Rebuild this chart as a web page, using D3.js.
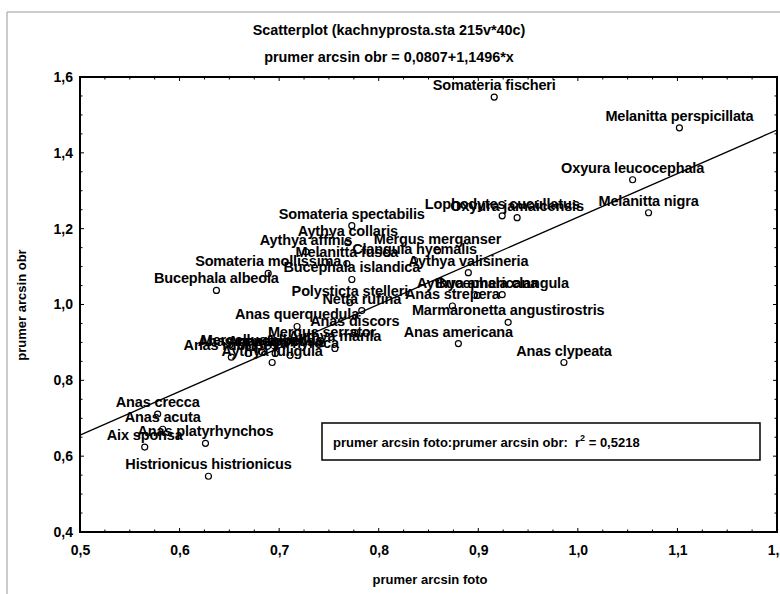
<!DOCTYPE html>
<html>
<head>
<meta charset="utf-8">
<script src="https://cdn.jsdelivr.net/npm/d3@7"></script>
<style>
  body { margin: 0; background: #fff; }
  text { font-family: "Liberation Sans", Arial, sans-serif; font-weight: bold; fill: #000; }
</style>
</head>
<body>
<div id="chart"></div>
<script>
// druhy a jejich hodnoty (odhad z obrazku)
const species = [
  'Somateria fischeri', 'Melanitta perspicillata', 'Oxyura leucocephala', 'Melanitta nigra',
  'Lophodytes cucullatus', 'Oxyura jamaicensis', 'Somateria spectabilis', 'Aythya collaris',
  'Aythya affinis', 'Mergus merganser', 'Clangula hyemalis', 'Melanitta fusca',
  'Somateria mollissima', 'Bucephala islandica', 'Aythya valisineria', 'Bucephala albeola',
  'Polysticta stelleri', 'Aythya americana', 'Bucephala clangula', 'Netta rufina',
  'Anas strepera', 'Marmaronetta angustirostris', 'Anas querquedula', 'Anas discors',
  'Mergus serrator', 'Anas americana', 'Anas clypeata', 'Aythya marila',
  'Anas rubripes', 'Anas penelope', 'Mergellus albellus', 'Aythya fuligula',
  'Anas formosa', 'Aythya nyroca', 'Anas crecca', 'Anas acuta',
  'Aix sponsa', 'Anas platyrhynchos', 'Histrionicus histrionicus'
];
const foto = [
  0.916, 1.102, 1.055, 1.071,
  0.924, 0.939, 0.773, 0.769,
  0.727, 0.859, 0.836, 0.768,
  0.689, 0.773, 0.890, 0.637,
  0.771, 0.899, 0.924, 0.783,
  0.874, 0.930, 0.718, 0.776,
  0.743, 0.880, 0.986, 0.756,
  0.652, 0.669, 0.683, 0.693,
  0.696, 0.711, 0.578, 0.583,
  0.565, 0.626, 0.629
];
const obr = [
  1.547, 1.466, 1.329, 1.242,
  1.234, 1.229, 1.208, 1.163,
  1.139, 1.142, 1.116, 1.108,
  1.082, 1.066, 1.084, 1.037,
  1.005, 1.024, 1.026, 0.984,
  0.996, 0.953, 0.942, 0.926,
  0.897, 0.897, 0.847, 0.884,
  0.861, 0.871, 0.874, 0.847,
  0.871, 0.866, 0.711, 0.671,
  0.624, 0.634, 0.547
];
const xTicks = [0.5, 0.6, 0.7, 0.8, 0.9, 1.0, 1.1, 1.2];
const yTicks = [0.4, 0.6, 0.8, 1.0, 1.2, 1.4, 1.6];
const intercept = 0.0807;
const slope = 1.1496;
const r2 = '0,5218';

const W = 780, H = 594;
const M = { left: 80, right: 3, top: 77, bottom: 62 };

const svg = d3.select('#chart').append('svg').attr('width', W).attr('height', H);

// vnejsi ramecek
svg.append('path')
  .attr('d', `M7,${H} V12 H${W}`)
  .style('fill', 'none').style('stroke', '#999').style('stroke-width', 1);

const x = d3.scaleLinear().domain([0.5, 1.2]).range([M.left, W - M.right]);
const y = d3.scaleLinear().domain([0.4, 1.6]).range([H - M.bottom, M.top]);
const fmt = v => d3.format('.1f')(v).replace('.', ',');

// titulky
svg.append('text').attr('x', 389).attr('y', 35).attr('text-anchor', 'middle')
  .style('font-size', '14.4px').text('Scatterplot (kachnyprosta.sta 215v*40c)');
svg.append('text').attr('x', 389).attr('y', 62).attr('text-anchor', 'middle')
  .style('font-size', '14.4px').text(`prumer arcsin obr = ${String(intercept).replace('.', ',')}+${String(slope).replace('.', ',')}*x`);

// osy - dlouhe a kratke ticky smerem dovnitr
const xMinor = d3.range(0.5, 1.2001, 0.025);
const yMinor = d3.range(0.4, 1.6001, 0.05);
const g = svg.append('g');

g.append('g').attr('transform', `translate(0,${y(0.4)})`)
  .call(d3.axisBottom(x).tickValues(xTicks).tickFormat(fmt).tickSize(0).tickPadding(13))
  .call(a => a.select('.domain').remove())
  .selectAll('text').style('font-size', '14px').style('font-family', null);
g.append('g').attr('transform', `translate(${x(0.5)},0)`)
  .call(d3.axisLeft(y).tickValues(yTicks).tickFormat(fmt).tickSize(0).tickPadding(7))
  .call(a => a.select('.domain').remove())
  .selectAll('text').style('font-size', '14px').style('font-family', null);

const tickSides = [
  { vals: xMinor, major: xTicks, horiz: true, pos: y(0.4), dir: -1 },
  { vals: xMinor, major: xTicks, horiz: true, pos: y(1.6), dir: 1 },
  { vals: yMinor, major: yTicks, horiz: false, pos: x(0.5), dir: 1 },
  { vals: yMinor, major: yTicks, horiz: false, pos: x(1.2), dir: -1 }
];
tickSides.forEach(s => {
  s.vals.forEach(v => {
    const isMajor = s.major.some(m => Math.abs(m - v) < 1e-6);
    const len = (isMajor ? 4 : 2.5) * s.dir;
    const line = g.append('line').style('stroke', '#000').style('stroke-width', 1);
    if (s.horiz) line.attr('x1', x(v)).attr('x2', x(v)).attr('y1', s.pos).attr('y2', s.pos + len);
    else line.attr('y1', y(v)).attr('y2', y(v)).attr('x1', s.pos).attr('x2', s.pos + len);
  });
});

// regresni primka
svg.append('line')
  .attr('x1', x(0.5)).attr('y1', y(intercept + slope * 0.5))
  .attr('x2', x(1.2)).attr('y2', y(intercept + slope * 1.2))
  .style('stroke', '#000').style('stroke-width', 1.3);

// body a popisky
const pts = species.map((name, i) => ({ name, fx: foto[i], ob: obr[i] }));
svg.append('g').selectAll('circle').data(pts).join('circle')
  .attr('cx', d => x(d.fx)).attr('cy', d => y(d.ob)).attr('r', 3)
  .style('fill', 'none').style('stroke', '#000').style('stroke-width', 1.2);
svg.append('g').selectAll('text').data(pts).join('text')
  .attr('x', d => x(d.fx)).attr('y', d => y(d.ob) - 7)
  .attr('text-anchor', 'middle')
  .style('font-size', '14.5px').style('letter-spacing', '-0.15px')
  .text(d => d.name);

// ramecek grafu
svg.append('rect')
  .attr('x', x(0.5)).attr('y', y(1.6))
  .attr('width', x(1.2) - x(0.5)).attr('height', y(0.4) - y(1.6))
  .style('fill', 'none').style('stroke', '#000').style('stroke-width', 2);

// popisky os
svg.append('text').attr('x', 430).attr('y', 584).attr('text-anchor', 'middle')
  .style('font-size', '13px').text('prumer arcsin foto');
svg.append('text').attr('transform', 'translate(26,305) rotate(-90)').attr('text-anchor', 'middle')
  .style('font-size', '13px').text('prumer arcsin obr');

// legenda s r2
svg.append('rect').attr('x', 322).attr('y', 423).attr('width', 438).attr('height', 37)
  .style('fill', '#fff').style('stroke', '#000').style('stroke-width', 1.5);
const lt = svg.append('text').attr('x', 333).attr('y', 447)
  .style('font-size', '13px').style('white-space', 'pre');
lt.append('tspan').text('prumer arcsin foto:prumer arcsin obr:  r');
lt.append('tspan').attr('dy', -6).style('font-size', '9px').text('2');
lt.append('tspan').attr('dy', 6).text(` = ${r2}`);
</script>
</body>
</html>
